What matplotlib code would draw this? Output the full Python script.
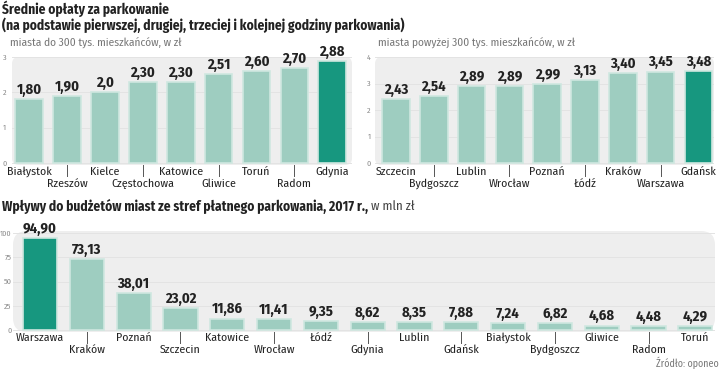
import matplotlib
matplotlib.use("Agg")
import matplotlib.pyplot as plt
from matplotlib.patches import FancyBboxPatch
from matplotlib import transforms

# data
small_cities = ["Białystok", "Rzeszów", "Kielce", "Częstochowa", "Katowice",
                "Gliwice", "Toruń", "Radom", "Gdynia"]
small_fees = [1.80, 1.90, 2.0, 2.30, 2.30, 2.51, 2.60, 2.70, 2.88]
small_texts = ["1,80", "1,90", "2,0", "2,30", "2,30", "2,51", "2,60", "2,70", "2,88"]

big_cities = ["Szczecin", "Bydgoszcz", "Lublin", "Wrocław", "Poznań", "Łódź",
              "Kraków", "Warszawa", "Gdańsk"]
big_fees = [2.43, 2.54, 2.89, 2.89, 2.99, 3.13, 3.40, 3.45, 3.48]
big_texts = ["2,43", "2,54", "2,89", "2,89", "2,99", "3,13", "3,40", "3,45", "3,48"]

inc_cities = ["Warszawa", "Kraków", "Poznań", "Szczecin", "Katowice", "Wrocław",
              "Łódź", "Gdynia", "Lublin", "Gdańsk", "Białystok", "Bydgoszcz",
              "Gliwice", "Radom", "Toruń"]
income = [94.90, 73.13, 38.01, 23.02, 11.86, 11.41, 9.35, 8.62, 8.35, 7.88,
          7.24, 6.82, 4.68, 4.48, 4.29]
inc_texts = ["94,90", "73,13", "38,01", "23,02", "11,86", "11,41", "9,35", "8,62",
             "8,35", "7,88", "7,24", "6,82", "4,68", "4,48", "4,29"]

LIGHT = "#9ecdc0"
DARK = "#17977f"
EDGE = "#cfe7e0"
PANEL = "#eeeeee"
COND = ["Fira Sans Condensed", "DejaVu Sans"]

plt.rcParams["font.family"] = COND

W, H = 720, 369
fig = plt.figure(figsize=(W / 100, H / 100), dpi=100)
fig.patch.set_facecolor("white")


def px_axes(x0, y0, x1, y1):
    return fig.add_axes([x0 / W, 1 - y1 / H, (x1 - x0) / W, (y1 - y0) / H])


def bar_panel(ax, box, values, texts, names, hi, xlim, ylim, ticks, tick_pad,
              row1, row2, tick_top, tick_bot):
    x0, y0, x1, y1 = box
    aspect = (x1 - x0) / (y1 - y0)
    ax.add_patch(FancyBboxPatch((0, 0), 1, 1, boxstyle="round,pad=0,rounding_size=0.02",
                                mutation_aspect=aspect, transform=ax.transAxes,
                                fc=PANEL, ec="none", zorder=0))
    for s in ax.spines.values():
        s.set_visible(False)
    ax.set_facecolor("none")
    ax.set_xlim(*xlim)
    ax.set_ylim(*ylim)
    ax.set_yticks(ticks)
    ax.set_xticks([])
    ax.tick_params(axis="y", length=0, labelsize=5.8, labelcolor="#888888", pad=tick_pad)
    ax.yaxis.grid(True, color="#e3e3e3", lw=0.7)
    ax.set_axisbelow(True)
    xs = list(range(len(values)))
    colors = [DARK if i == hi else LIGHT for i in xs]
    ax.bar(xs, values, width=0.73, color=colors, edgecolor=EDGE, linewidth=1.2, zorder=2)
    for i, (v, t) in enumerate(zip(values, texts)):
        ax.annotate(t, (i, v), xytext=(0, 1.5), textcoords="offset points",
                    ha="center", va="bottom", fontsize=10.5, fontweight="bold",
                    color="#222222", zorder=3)
    tr = transforms.blended_transform_factory(ax.transData, fig.transFigure)
    for i, name in enumerate(names):
        y = row1 if i % 2 == 0 else row2
        fig.text(i, 1 - y / H, name, transform=tr, ha="center", va="center",
                 fontsize=8.5, color="#222222")
        if i % 2 == 1:
            ax.plot([i, i], [1 - tick_top / H, 1 - tick_bot / H], transform=tr,
                    color="#555555", lw=0.7, clip_on=False)


# titles
fig.text(2 / W, 1 - 9 / H, "Średnie opłaty za parkowanie", fontsize=9.7,
         fontweight="bold", color="#222222", va="center")
fig.text(2 / W, 1 - 25 / H,
         "(na podstawie pierwszej, drugiej, trzeciej i kolejnej godziny parkowania)",
         fontsize=9.7, fontweight="bold", color="#222222", va="center")
fig.text(10 / W, 1 - 42 / H, "miasta do 300 tys. mieszkańców, w zł", fontsize=8.2,
         color="#777777", va="center")
fig.text(378 / W, 1 - 42 / H, "miasta powyżej 300 tys. mieszkańców, w zł", fontsize=8.2,
         color="#777777", va="center")

# top left
box = (12, 57, 352, 165)
ax1 = px_axes(*box)
bar_panel(ax1, box, small_fees, small_texts, small_cities, 8,
          (-0.45, 8.52), (-0.06, 3.0), [0, 1, 2, 3], 4,
          172, 184, 165, 176)

# top right
box = (375, 57, 714, 165)
ax2 = px_axes(*box)
bar_panel(ax2, box, big_fees, big_texts, big_cities, 8,
          (-0.556, 8.41), (-0.075, 4.0), [0, 1, 2, 3, 4], 3,
          172, 184, 165, 176)

# bottom title
t = fig.text(2 / W, 1 - 206 / H,
             "Wpływy do budżetów miast ze stref płatnego parkowania, 2017 r.,",
             fontsize=9.7, fontweight="bold", color="#222222", va="center")
fig.canvas.draw()
bb = t.get_window_extent()
fig.text((bb.x1 + 3) / W, 1 - 206 / H, "w mln zł", fontsize=9.3, color="#444444",
         va="center")

# bottom
box = (13, 231, 715, 332)
ax3 = px_axes(*box)
bar_panel(ax3, box, income, inc_texts, inc_cities, 0,
          (-0.577, 14.42), (-2.0, 102.0), [0, 25, 50, 75, 100], 1,
          338, 350, 332, 343)

fig.text(719 / W, 1 - 363 / H, "Źródło: oponeo", fontsize=7.2, color="#777777",
         ha="right", va="center")

fig.savefig("out.png", dpi=100, facecolor="white")
